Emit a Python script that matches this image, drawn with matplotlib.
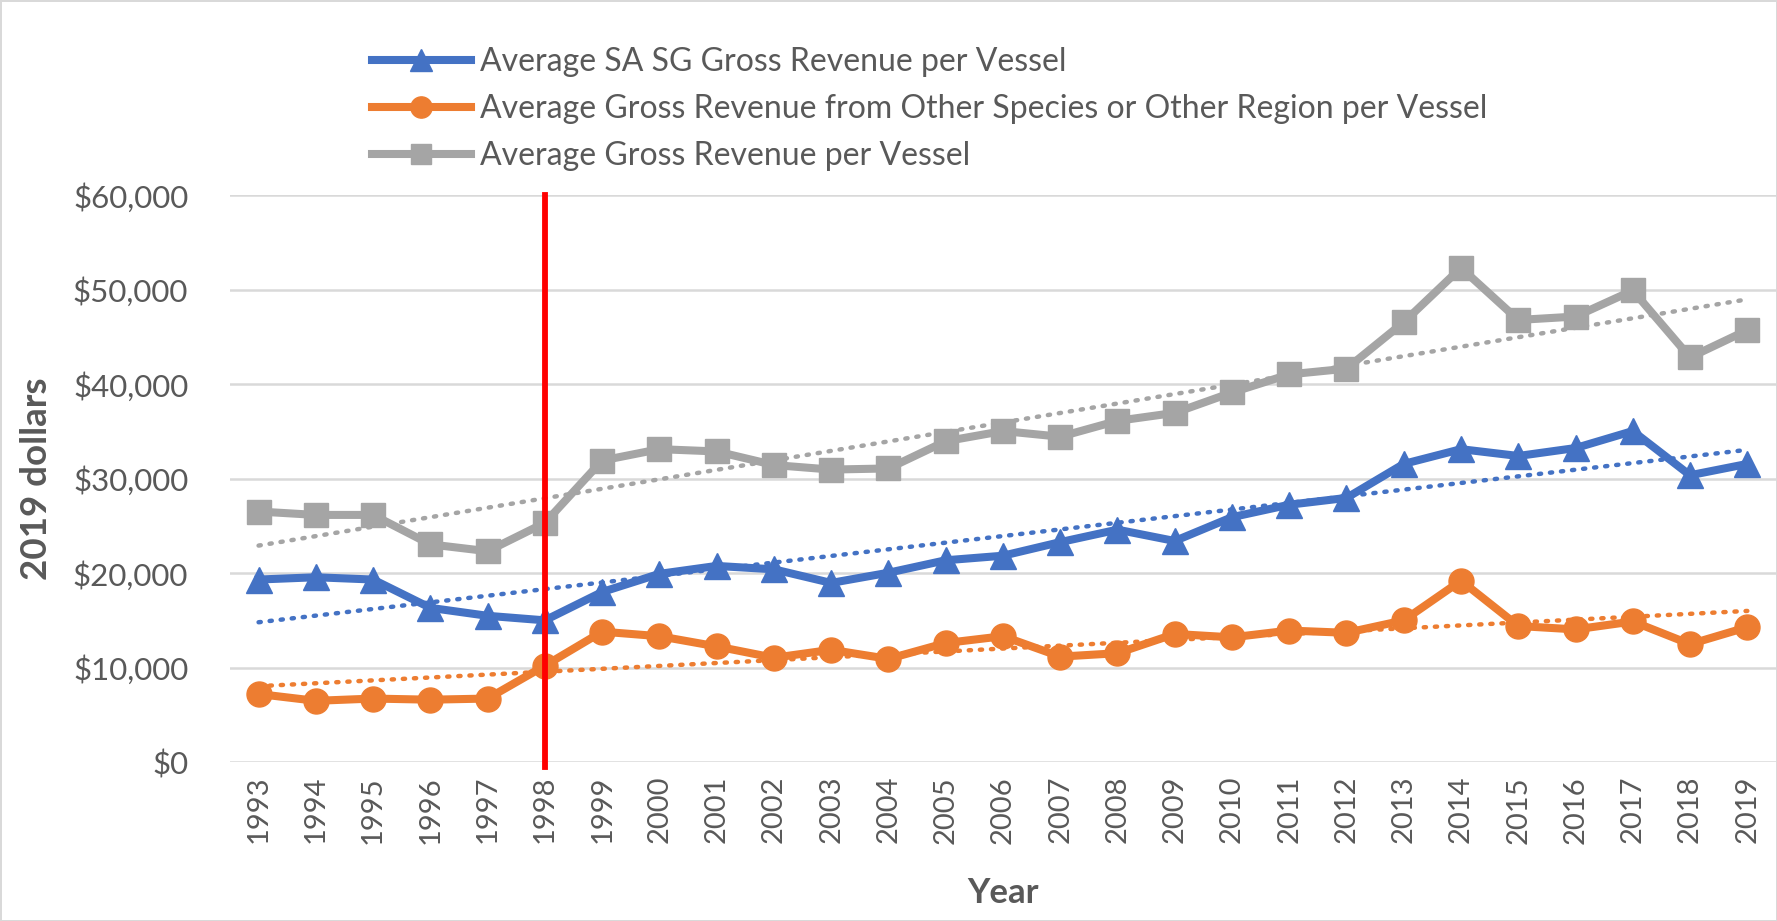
import numpy as np
import matplotlib.pyplot as plt
from matplotlib.ticker import FuncFormatter, MultipleLocator

plt.rcParams['font.family'] = ['Lato', 'DejaVu Sans']

# Données
years = list(range(1993, 2020))
sa_sg = [19320, 19560, 19320, 16320, 15480, 15000, 18000, 19920, 20760, 20400,
         18960, 20040, 21360, 21840, 23280, 24600, 23400, 25920, 27240, 27960,
         31560, 33120, 32400, 33240, 35040, 30360, 31560]
other = [7200, 6480, 6720, 6600, 6720, 10200, 13800, 13320, 12240, 11040,
         11880, 10920, 12600, 13320, 11160, 11520, 13560, 13200, 13920, 13680,
         15000, 19200, 14400, 14040, 14880, 12480, 14280]
total = [26520, 26160, 26160, 23040, 22320, 25320, 31920, 33120, 32880, 31440,
         30960, 31080, 33960, 35040, 34440, 36120, 36960, 39120, 41040, 41640,
         46560, 52320, 46800, 47160, 49920, 42840, 45720]

labels = ["Average SA SG Gross Revenue per Vessel",
          "Average Gross Revenue from Other Species or Other Region per Vessel",
          "Average Gross Revenue per Vessel"]
colors = ["#4472C4", "#ED7D31", "#A5A5A5"]
markers = ["^", "o", "s"]
tailles = [19, 18, 17]
txt = "#595959"

fig = plt.figure(figsize=(17.77, 9.21), dpi=100)
fig.patch.set_edgecolor("#D9D9D9")
fig.patch.set_linewidth(2)
ax = fig.add_axes([0.1294, 0.1726, 0.8700, 0.6154])

x = np.arange(len(years))
handles = []
for serie, c, m, ms, lab in zip([sa_sg, other, total], colors, markers, tailles, labels):
    h, = ax.plot(x, serie, color=c, lw=5.8, marker=m, ms=ms, label=lab, zorder=3)
    handles.append(h)
    # courbe de tendance linéaire (comme Excel)
    a, b = np.polyfit(x, serie, 1)
    ax.plot(x, a * x + b, color=c, lw=3.2, ls=(0, (0.5, 2.0)),
            dash_capstyle='round', zorder=2)

# ligne rouge en 1998
ax.axvline(years.index(1998), ymin=-0.008, color="red", lw=4.2, zorder=4,
           clip_on=False)

ax.set_xlim(-0.5, len(years) - 0.5)
ax.set_ylim(0, 60000)
ax.yaxis.set_major_locator(MultipleLocator(10000))
ax.yaxis.set_major_formatter(FuncFormatter(lambda v, p: f"${v:,.0f}"))
ax.set_xticks(x)
ax.set_xticklabels([str(y) for y in years], rotation=90)
ax.grid(axis='y', color="#D9D9D9", lw=1.8, zorder=0)
for s in ax.spines.values():
    s.set_visible(False)
ax.tick_params(length=0, colors=txt, labelsize=21)
ax.tick_params(axis='y', labelsize=22.5, pad=30)
ax.tick_params(axis='x', pad=10)

ax.set_ylabel("2019 dollars", fontsize=26.5, fontweight='bold', color=txt, labelpad=14)
ax.set_xlabel("Year", fontsize=25, fontweight='bold', color=txt, labelpad=24)

fig.legend(handles=handles, loc='upper left', bbox_to_anchor=(0.193, 0.980),
           frameon=False, fontsize=23, labelcolor=txt, handlelength=3.1,
           handletextpad=0.3, labelspacing=0.53, markerscale=0.85)

plt.savefig("out.png", dpi=100)
